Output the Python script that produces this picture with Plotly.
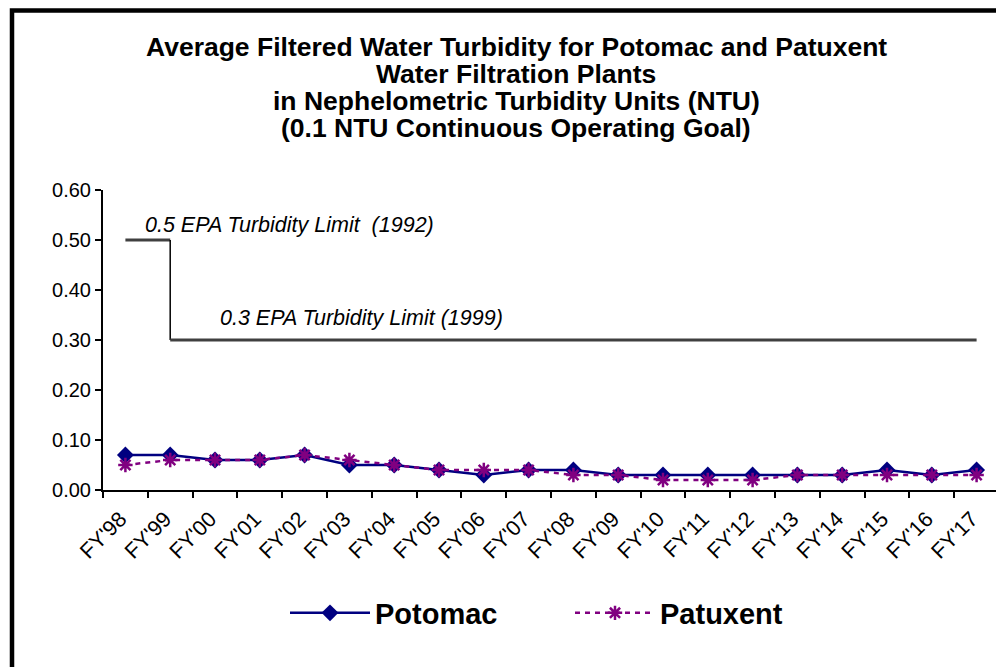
import plotly.graph_objects as go

# fiscal years on the x axis
years = ["FY'98", "FY'99", "FY'00", "FY'01", "FY'02", "FY'03", "FY'04", "FY'05", "FY'06", "FY'07",
         "FY'08", "FY'09", "FY'10", "FY'11", "FY'12", "FY'13", "FY'14", "FY'15", "FY'16", "FY'17"]

# average filtered water turbidity (NTU)
potomac = [0.07, 0.07, 0.06, 0.06, 0.07, 0.05, 0.05, 0.04, 0.03, 0.04,
           0.04, 0.03, 0.03, 0.03, 0.03, 0.03, 0.03, 0.04, 0.03, 0.04]
patuxent = [0.05, 0.06, 0.06, 0.06, 0.07, 0.06, 0.05, 0.04, 0.04, 0.04,
            0.03, 0.03, 0.02, 0.02, 0.02, 0.03, 0.03, 0.03, 0.03, 0.03]

# EPA limits
limit_1992 = 0.5
limit_1999 = 0.3

title_lines = [
    "Average Filtered Water Turbidity for Potomac and Patuxent",
    "Water Filtration Plants",
    "in Nephelometric Turbidity Units (NTU)",
    "(0.1 NTU Continuous Operating Goal)",
]

FONT = "Liberation Sans, Arial, sans-serif"
OFF = 8  # page body margin
W, H = 1004 - OFF, 667 - OFF
ML, MR, MT, MB = 95, 5, 182, 177
PW, PH = W - ML - MR, H - MT - MB


# helpers: page pixel -> paper coords
def px_x(p):
    return (p - OFF - ML) / PW


def px_y(p):
    return (H - MB - (p - OFF)) / PH


fig = go.Figure()

# 0.5 limit (1992) until FY'99, step down to 0.3 (1999)
fig.add_trace(go.Scatter(x=[years[0], years[1]], y=[limit_1992, limit_1992], mode="lines",
                         line=dict(color="#404040", width=3), showlegend=False, hoverinfo="skip"))
fig.add_trace(go.Scatter(x=[years[1], years[1]], y=[limit_1992, limit_1999], mode="lines",
                         line=dict(color="black", width=1.5), showlegend=False, hoverinfo="skip"))
fig.add_trace(go.Scatter(x=[years[1], years[-1]], y=[limit_1999, limit_1999], mode="lines",
                         line=dict(color="#404040", width=3), showlegend=False, hoverinfo="skip"))

fig.add_trace(go.Scatter(
    x=years, y=potomac, name="Potomac", mode="lines+markers",
    line=dict(color="#000080", width=2.5),
    marker=dict(symbol="diamond", size=13, color="#000080"),
))
fig.add_trace(go.Scatter(
    x=years, y=patuxent, name="Patuxent", mode="lines+markers",
    line=dict(color="#800080", width=2.5, dash="5px,5px"),
    marker=dict(symbol="asterisk-open", size=12, color="#800080", line=dict(width=2.5, color="#800080")),
))

annotations = []
title_y = [47, 74, 101, 128]
for txt, yy in zip(title_lines, title_y):
    annotations.append(dict(text="<b>" + txt + "</b>", xref="paper", yref="paper",
                            x=px_x(516), y=px_y(yy), xanchor="center", yanchor="middle",
                            showarrow=False, font=dict(family=FONT, size=26.5, color="black")))

annotations.append(dict(text="<i>0.5 EPA Turbidity Limit \u00a0(1992)</i>", xref="paper", yref="y",
                        x=px_x(143), y=0.53, xanchor="left", yanchor="middle", showarrow=False,
                        font=dict(family=FONT, size=21.5, color="black")))
annotations.append(dict(text="<i>0.3 EPA Turbidity Limit (1999)</i>", xref="paper", yref="y",
                        x=px_x(218), y=0.344, xanchor="left", yanchor="middle", showarrow=False,
                        font=dict(family=FONT, size=21.5, color="black")))

fig.update_layout(
    template="none",
    width=W, height=H,
    margin=dict(l=ML, r=MR, t=MT, b=MB, autoexpand=False),
    paper_bgcolor="white", plot_bgcolor="white",
    font=dict(family=FONT, size=20, color="black"),
    annotations=annotations,
    showlegend=True,
    legend=dict(orientation="h", x=px_x(285), y=px_y(613), xanchor="left", yanchor="middle",
                font=dict(family=FONT, size=29, color="black", weight="bold"),
                itemwidth=80, entrywidth=190, entrywidthmode="pixels",
                bgcolor="rgba(0,0,0,0)"),
    shapes=[dict(type="rect", xref="paper", yref="paper",
                 x0=px_x(12), x1=px_x(1100), y0=px_y(760), y1=px_y(10.5),
                 line=dict(color="black", width=4.5), layer="above")],
)

fig.update_xaxes(
    type="category", categoryorder="array", categoryarray=years, automargin=False,
    range=[-0.5, len(years) - 0.5],
    showgrid=False, zeroline=False,
    showline=True, linecolor="black", linewidth=2,
    ticks="outside", tickson="boundaries", ticklen=6, tickwidth=2, tickcolor="black",
    tickangle=-45, tickfont=dict(family=FONT, size=21.5, color="black"),
    ticklabelstandoff=6, ticklabelshift=-5,
)
fig.update_yaxes(
    range=[0, 0.6], dtick=0.1, tickformat=".2f", automargin=False,
    showgrid=False, zeroline=False,
    showline=True, linecolor="black", linewidth=2,
    ticks="outside", ticklen=6, tickwidth=2, tickcolor="black",
    tickfont=dict(family=FONT, size=20, color="black"),
)

fig.write_html("out.html")
